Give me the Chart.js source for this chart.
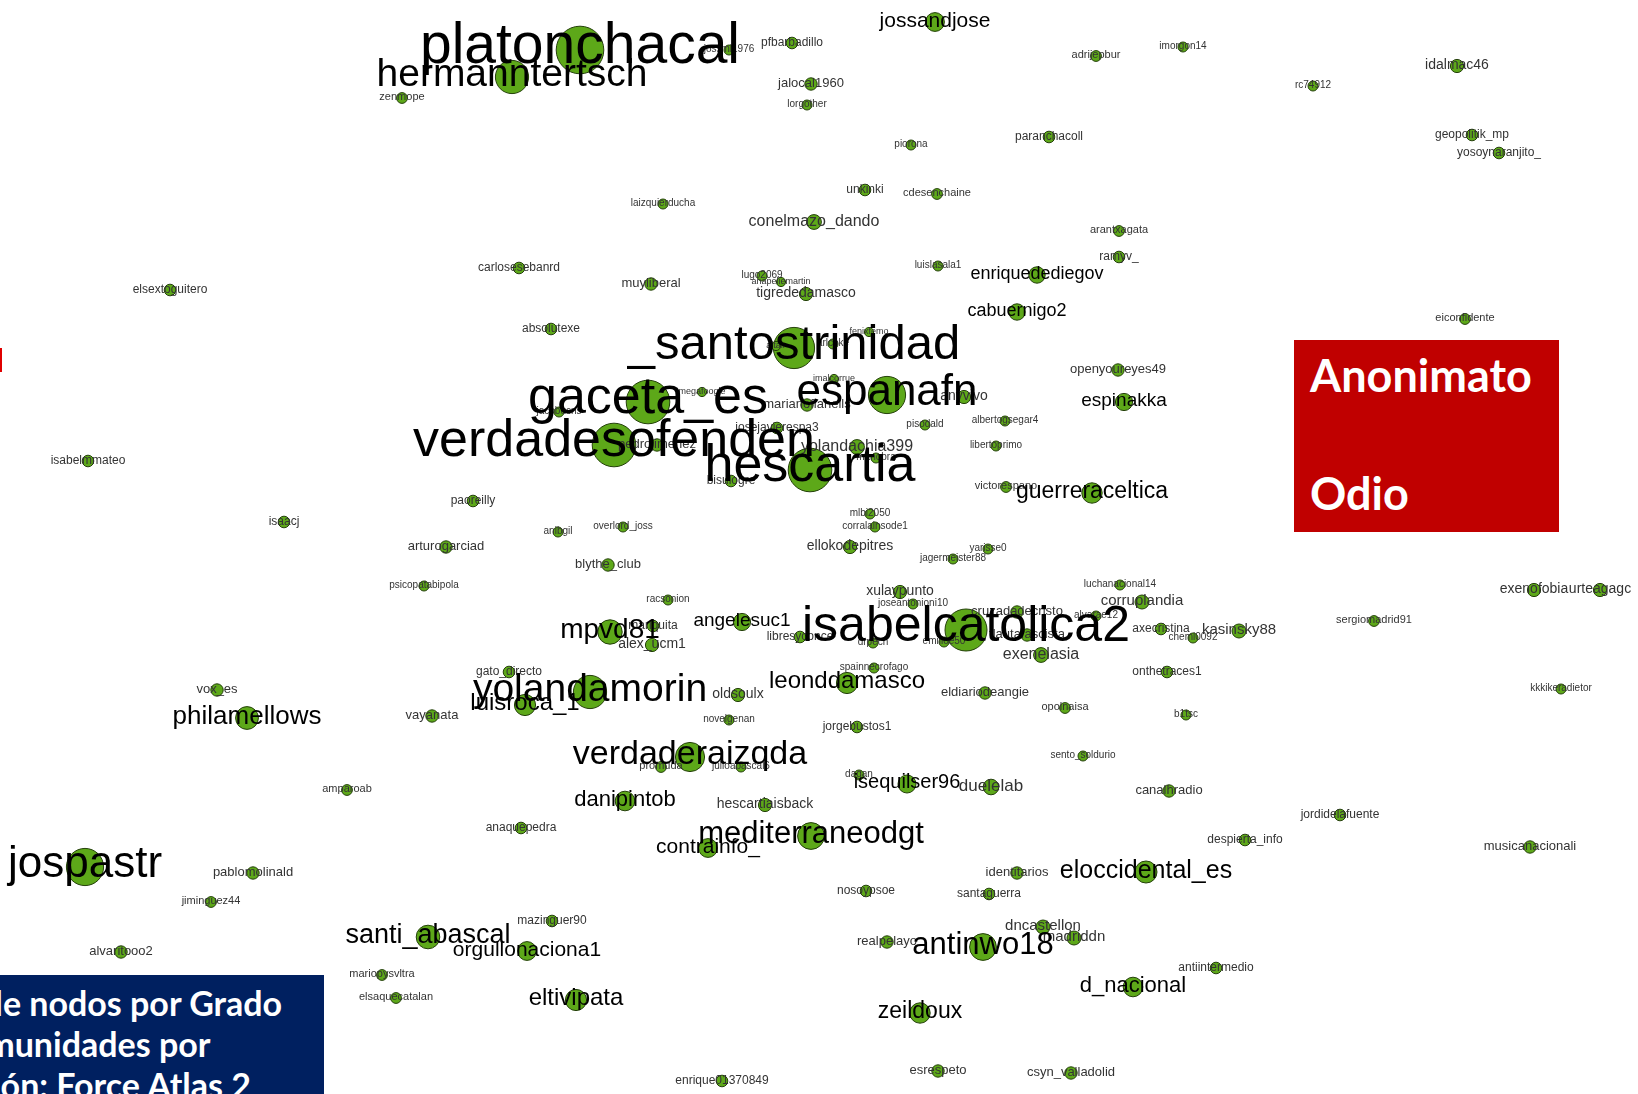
<!DOCTYPE html>
<html lang="es">
<head>
<meta charset="utf-8">
<title>Anonimato / Odio - red</title>
<script src="https://cdn.jsdelivr.net/npm/chart.js@4.4.1/dist/chart.umd.min.js"></script>
<style>
  html, body { margin: 0; padding: 0; background: #fff; }
  #wrap { position: relative; width: 1638px; height: 1094px; overflow: hidden; }
  #graph { position: absolute; left: 0; top: 0; }
  .tag-red { position: absolute; left: 1294px; top: 340px; width: 265px; height: 192px; background: #c00000; }
  .tag-red div { position: absolute; left: 16px; color: #fff; font: bold 45px/45px Lato, "Open Sans", sans-serif; white-space: nowrap; }
  .tag-blue { position: absolute; left: 0; top: 975px; width: 324px; height: 130px; background: #002060; overflow: hidden; }
  .tag-blue div { position: absolute; color: #fff; font: bold 34px/34px Lato, "Open Sans", sans-serif; white-space: nowrap; }
  .sliver { position: absolute; left: 0; top: 348px; width: 2px; height: 24px; background: #e00000; }
</style>
</head>
<body>
<div id="wrap">
  <canvas id="graph" width="1638" height="1094"></canvas>
  <div class="sliver"></div>
  <div class="tag-red">
    <div style="top:13px">Anonimato</div>
    <div style="top:131px">Odio</div>
  </div>
  <div class="tag-blue" id="legend-box"></div>
</div>
<script>
// nodes: twitter accounts, position from Force Atlas 2 layout, degree -> size
const names = [
  'platonchacal', 'hermanntertsch', 'zenmope', 'jossmi1976', 'pfbarbadillo', 'jalocal1960', 'lorgother',
  'jossandjose', 'adrijepbur', 'imorgon14', 'idalmac46', 'rc74912', 'piorona', 'paranchacoll',
  'geopolitik_mp', 'yosoynaranjito_', 'laizquierducha', 'unkinki', 'cdesenchaine', 'conelmazo_dando',
  'arantxagata', 'ramyv_', 'carlosesebanrd', 'muyliberal', 'lugo2069', 'anapeliemartin', 'tigrededamasco',
  'luislasala1', 'enriquedediegov', 'elsextoguitero', 'cabuernigo2', 'eiconfidente', 'absolutexe',
  '_santostrinidad', 'fenixfemo', 'altair', 'arlcoke', 'imalcorrue', 'gaceta_es', 'megafoogle',
  'espanafn', 'anyvivo', 'openyoureyes49', 'espinakka', 'jacobucns', 'marianofianells', 'pisodald',
  'albertogsegar4', 'isabelmmateo', 'verdadesofenden', 'josejavierespa3', 'pedrojimenez', 'yolandachia399',
  'libertoprimo', 'manobra', 'hescartia', 'bisulogre', 'victorespano', 'guerreraceltica', 'paoreilly',
  'isaacj', 'mlbi2050', 'corralainsode1', 'arturogarciad', 'anibgil', 'overlord_joss', 'ellokodepitres',
  'yarisse0', 'jagermeister88', 'blythe_club', 'psicopatabipola', 'luchanacional14', 'xulaypunto',
  'racsonion', 'joseantonioni10', 'corruplandia', 'mpvd81', 'mariquita', 'angelesuc1', 'isabelcatolica2',
  'cruzadadecristo', 'alvarae12', 'axecristina', 'kasinsky88', 'sergiomadrid91', 'exenofobia', 'urteagagc',
  'alex_ucm1', 'libresyconce', 'drpech', 'emilioe50', 'flautafascista', 'chemi0092', 'exenelasia',
  'gato_directo', 'spainnecrofago', 'onthetraces1', 'vox_es', 'yolandamorin', 'oldsoulx', 'leonddamasco',
  'eldiariodeangie', 'kkkikeradietor', 'philamellows', 'vayanata', 'luisroca_1', 'opolnaisa', 'b1tsc',
  'novelgenan', 'jorgebustos1', 'verdaderaizqda', 'promuda', 'julioabascal6', 'sento_soldurio', 'dagan',
  'isequilser96', 'duelelab', 'canalhradio', 'amparoab', 'jordidelafuente', 'danipintob', 'hescartiaisback',
  'despierta_info', 'anaquepedra', 'mediterraneodgt', 'contrainfo_', 'musicanacionali', 'jospastr',
  'pablomolinald', 'identitarios', 'eloccidental_es', 'nosoypsoe', 'santaguerra', 'jiminguez44',
  'mazinguer90', 'dncastellon', 'madriddn', 'santi_abascal', 'orgullonaciona1', 'realpelayo', 'antinwo18',
  'antiintermedio', 'alvaritooo2', 'mariopysvltra', 'd_nacional', 'elsaquecatalan', 'eltivipata',
  'zeildoux', 'esrespeto', 'csyn_valladolid', 'enrique01370849'
];

const layoutX = [
  580, 512, 402, 729, 792, 811, 807,
  935, 1096, 1183, 1457, 1313, 911, 1049,
  1472, 1499, 663, 865, 937, 814,
  1119, 1119, 519, 651, 762, 781, 806,
  938, 1037, 170, 1017, 1465, 551,
  794, 869, 776, 833, 834, 648, 702,
  887, 964, 1118, 1124, 559, 807, 925,
  1005, 88, 614, 777, 657, 857,
  996, 876, 810, 731, 1006, 1092, 473,
  284, 870, 875, 446, 558, 623, 850,
  988, 953, 608, 424, 1120, 900,
  668, 913, 1142, 610, 653, 742, 966,
  1017, 1096, 1161, 1239, 1374, 1534, 1600,
  652, 800, 873, 944, 1027, 1193, 1041,
  509, 874, 1167, 217, 590, 738, 847,
  985, 1561, 247, 432, 525, 1065, 1186,
  729, 857, 690, 661, 741, 1083, 859,
  907, 991, 1169, 347, 1340, 625, 765,
  1245, 521, 811, 708, 1530, 85,
  253, 1017, 1146, 866, 989, 211,
  552, 1043, 1074, 428, 527, 887, 983,
  1216, 121, 382, 1133, 396, 576,
  920, 938, 1071, 722
];

const layoutY = [
  50, 77, 98, 50, 43, 84, 105,
  22, 56, 47, 66, 86, 145, 137,
  135, 153, 204, 190, 194, 222,
  231, 257, 268, 284, 276, 282, 294,
  266, 275, 290, 312, 319, 329,
  348, 332, 346, 344, 379, 402, 392,
  395, 397, 370, 402, 412, 405, 425,
  421, 461, 445, 428, 445, 447,
  446, 458, 470, 481, 487, 493, 501,
  522, 514, 527, 547, 532, 527, 547,
  549, 559, 565, 586, 585, 592,
  600, 604, 602, 632, 626, 622, 630,
  612, 616, 629, 631, 621, 590, 590,
  645, 637, 643, 642, 635, 638, 655,
  672, 668, 672, 690, 692, 695, 683,
  693, 689, 718, 716, 705, 708, 715,
  720, 727, 757, 767, 767, 756, 775,
  784, 787, 791, 790, 815, 801, 805,
  840, 828, 836, 848, 847, 867,
  873, 873, 872, 891, 894, 902,
  921, 927, 938, 937, 951, 942, 947,
  968, 952, 975, 987, 998, 1000,
  1013, 1071, 1073, 1081
];

const degree = [
  48, 30, 2, 1, 3, 4, 1,
  12, 2, 1, 5, 1, 1, 3,
  3, 3, 1, 3, 2, 7,
  2, 3, 3, 4, 1, 0, 5,
  1, 9, 3, 9, 2, 3,
  40, 0, 0, 1, 0, 43, 0,
  35, 5, 4, 10, 1, 4, 1,
  1, 3, 43, 3, 4, 7,
  1, 1, 43, 3, 2, 14, 3,
  3, 1, 1, 4, 1, 1, 5,
  1, 1, 4, 1, 1, 5,
  1, 1, 6, 19, 3, 10, 41,
  4, 1, 3, 6, 2, 5, 5,
  5, 3, 1, 1, 4, 1, 7,
  3, 1, 3, 4, 30, 5, 15,
  4, 1, 17, 4, 15, 2, 1,
  1, 3, 25, 2, 1, 1, 1,
  11, 8, 4, 2, 3, 13, 5,
  3, 3, 22, 12, 4, 35,
  4, 4, 16, 3, 3, 2,
  3, 6, 6, 18, 12, 4, 22,
  3, 4, 2, 13, 2, 15,
  14, 4, 4, 3
];

const legendLines = ['Tamaño de nodos por Grado', 'Color de comunidades por', 'Distribución: Force Atlas 2'];
const legendCut = ['Tamaño ', 'Color de co', 'Distribuci'];

function labelSize(d) { return 9 + d; }
function nodeRadius(d) { return 1 + labelSize(d) / 2.5; }

const points = names.map((_, i) => ({ x: layoutX[i], y: layoutY[i], r: nodeRadius(degree[i]) }));

const nodeLabels = {
  id: 'nodeLabels',
  afterDatasetsDraw(chart) {
    const ctx = chart.ctx;
    const meta = chart.getDatasetMeta(0);
    const order = names.map((_, i) => i).sort((a, b) => degree[a] - degree[b]);
    ctx.save();
    ctx.textAlign = 'center';
    ctx.textBaseline = 'alphabetic';
    for (const i of order) {
      const el = meta.data[i];
      const size = labelSize(degree[i]);
      ctx.font = size + 'px "Liberation Sans", Arial, sans-serif';
      ctx.fillStyle = size >= 18 ? '#000' : '#333';
      ctx.fillText(names[i], el.x, el.y + size * 0.22);
    }
    ctx.restore();
  }
};

new Chart(document.getElementById('graph'), {
  type: 'bubble',
  data: {
    datasets: [{
      data: points,
      backgroundColor: '#5da819',
      borderColor: '#24400a',
      borderWidth: 1,
      hoverBorderWidth: 1,
      clip: false
    }]
  },
  options: {
    responsive: false,
    animation: false,
    events: [],
    layout: { padding: 0, autoPadding: false },
    plugins: { legend: { display: false }, tooltip: { enabled: false } },
    scales: {
      x: { type: 'linear', min: 0, max: 1638, display: false },
      y: { type: 'linear', min: 0, max: 1094, reverse: true, display: false }
    }
  },
  plugins: [nodeLabels]
});

// legend box text is cut at the left edge of the slide
const box = document.getElementById('legend-box');
const mctx = document.createElement('canvas').getContext('2d');
mctx.font = 'bold 34px Lato, "Open Sans", sans-serif';
legendLines.forEach((t, i) => {
  let cut = mctx.measureText(legendCut[i]).width;
  if (i === 0) cut += mctx.measureText('d').width - 2;
  if (i === 1) cut += mctx.measureText('m').width * 0.5;
  const line = document.createElement('div');
  line.textContent = t;
  line.style.left = Math.round(1 - cut) + 'px';
  line.style.top = (11 + i * 41) + 'px';
  box.appendChild(line);
});
</script>
</body>
</html>
